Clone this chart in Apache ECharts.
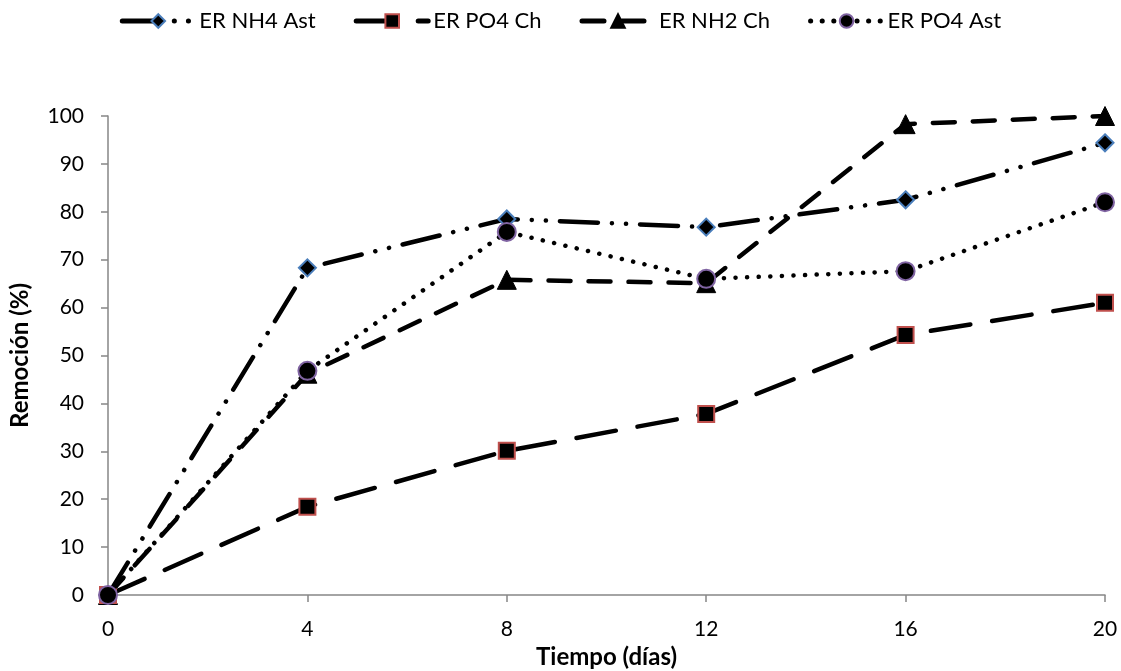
<!DOCTYPE html>
<html><head><meta charset="utf-8">
<script src="https://cdn.jsdelivr.net/npm/echarts@6/dist/echarts.min.js"></script>
<style>html,body{margin:0;padding:0;background:#fff}#c{width:1121px;height:671px}</style>
</head><body><div id="c"></div>
<script>
const days = [0, 4, 8, 12, 16, 20];
const nh4Ast = [0, 68.3, 78.5, 76.8, 82.5, 94.4];
const po4Ch = [0, 18.4, 30.1, 37.8, 54.3, 61.0];
const nh2Ch = [0, 46.2, 65.8, 65.1, 98.3, 100];
const po4Ast = [0, 46.8, 75.8, 66.0, 67.6, 82.0];
const names = ['ER NH4 Ast', 'ER PO4 Ch', 'ER NH2 Ch', 'ER PO4 Ast'];

const font = 'Lato, "Open Sans", sans-serif';
const pair = v => v.map((y, i) => [days[i], y]);

const chart = echarts.init(document.getElementById('c'), null, {renderer: 'canvas'});
chart.setOption({
  animation: false,
  backgroundColor: '#fff',
  legend: {
    top: 5, left: 'center', itemWidth: 72, itemHeight: 17, itemGap: 38,
    textStyle: {fontFamily: font, fontSize: 22, color: '#000'},
    lineStyle: {width: 5, cap: 'round'},
    data: names
  },
  grid: {left: 108, right: 16, top: 116, bottom: 76, containLabel: false, outerBoundsMode: 'none'},
  xAxis: {
    type: 'value', min: 0, max: 20, interval: 4,
    name: 'Tiempo (días)', nameLocation: 'middle', nameGap: 43,
    nameTextStyle: {fontFamily: font, fontSize: 24, fontWeight: 'bold', color: '#000'},
    axisLine: {lineStyle: {color: '#868686', width: 1.5}},
    axisTick: {show: true, inside: false, length: 7, lineStyle: {color: '#868686', width: 1.5}},
    axisLabel: {fontFamily: font, fontSize: 21, color: '#000', margin: 24},
    splitLine: {show: false}
  },
  yAxis: {
    type: 'value', min: 0, max: 100, interval: 10,
    name: 'Remoción (%)', nameLocation: 'middle', nameGap: 76, nameRotate: 90,
    nameTextStyle: {fontFamily: font, fontSize: 24, fontWeight: 'bold', color: '#000'},
    axisLine: {show: true, lineStyle: {color: '#868686', width: 1.5}},
    axisTick: {show: true, inside: false, length: 7, lineStyle: {color: '#868686', width: 1.5}},
    axisLabel: {fontFamily: font, fontSize: 21, color: '#000', margin: 24},
    splitLine: {show: false}
  },
  series: [
    {
      name: names[0], type: 'line', data: pair(nh4Ast), z: 4,
      symbol: 'diamond', symbolSize: 17,
      itemStyle: {color: '#000', borderColor: '#4a7ebb', borderWidth: 2},
      lineStyle: {color: '#000', width: 4.5, type: [38, 14, 0.1, 14, 0.1, 14], cap: 'round'}
    },
    {
      name: names[1], type: 'line', data: pair(po4Ch), z: 3,
      symbol: 'rect', symbolSize: 16,
      itemStyle: {color: '#000', borderColor: '#c0504d', borderWidth: 2},
      lineStyle: {color: '#000', width: 4.5, type: [40, 22], cap: 'round'}
    },
    {
      name: names[2], type: 'line', data: pair(nh2Ch), z: 2,
      symbol: 'triangle', symbolSize: 19,
      itemStyle: {color: '#000', borderColor: '#000', borderWidth: 1},
      lineStyle: {color: '#000', width: 4.5, type: [22, 18], cap: 'round'}
    },
    {
      name: names[3], type: 'line', data: pair(po4Ast), z: 5,
      symbol: 'circle', symbolSize: 18,
      itemStyle: {color: '#000', borderColor: '#8064a2', borderWidth: 2},
      lineStyle: {color: '#000', width: 4.5, type: [0.1, 11.5], cap: 'round'}
    }
  ]
});
</script>
</body></html>
